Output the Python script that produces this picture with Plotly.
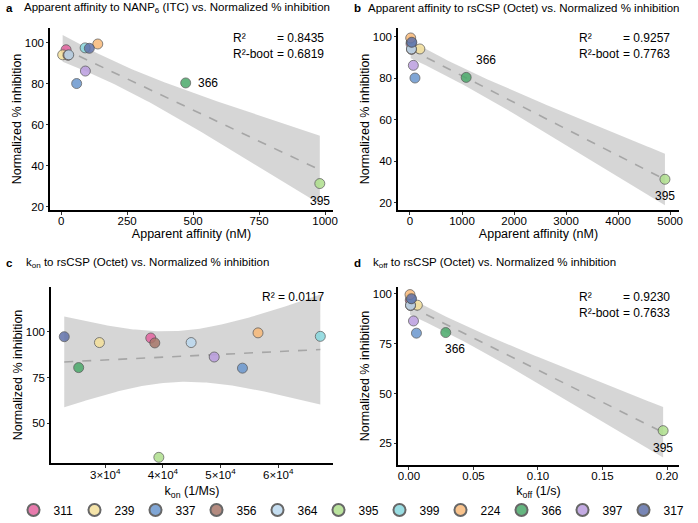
import numpy as np
import plotly.graph_objects as go

# ---------------- data ----------------
antibodies = ["311", "239", "337", "356", "364", "395", "399", "224", "366", "397", "317"]
colors = ["#E4649F", "#F4E09B", "#6B97CE", "#A8776A", "#BCD9EF", "#AEDF8C",
          "#88D8DE", "#F8B979", "#4BAA6B", "#BA9DDF", "#6172AA"]
inhibition = [96.7, 94.2, 80.2, 94.0, 94.2, 31.4, 97.6, 99.5, 80.5, 86.3, 97.4]
affinity_itc = [19, 6, 59, 26, 29, 980, 91, 139, 472, 92, 107]          # nM
affinity_octet = [20, 190, 96, 30, 28, 4900, 25, 14, 1080, 65, 36]      # nM
kon = [3.79e4, 2.90e4, 5.38e4, 3.86e4, 4.49e4, 3.93e4, 6.73e4, 5.65e4, 2.54e4, 4.89e4, 2.29e4]  # 1/Ms
koff = [0.0010, 0.0065, 0.0058, 0.0012, 0.0012, 0.197, 0.0015, 0.0008, 0.0285, 0.0035, 0.0020]  # 1/s

r2_text = {
    "a": ("0.8435", "0.6819"),
    "b": ("0.9257", "0.7763"),
    "c": ("0.0117", None),
    "d": ("0.9230", "0.7633"),
}
labelled = ["366", "395"]

FONT = "Liberation Sans, Arial, Helvetica, sans-serif"
W, H = 698, 523

fig = go.Figure()

panels = [
    ("a", affinity_itc, "", (50, 333), (28, 210), [-42, 1030], [18.5, 107.3], [20, 40, 60, 80, 100]),
    ("b", affinity_octet, "2", (398, 679), (28, 210), [-230, 5170], [16.6, 104.3], [20, 40, 60, 80, 100]),
    ("c", kon, "3", (51, 333), (287, 463), [2.06e4, 6.95e4], [28.3, 124.6], [50, 75, 100]),
    ("d", koff, "4", (398, 679), (287, 465), [-0.0085, 0.2093], [14.2, 103.3], [25, 50, 75, 100]),
]

T_CRIT = 2.262  # t(0.975, df=9)

y = np.array(inhibition, dtype=float)
for key, xv, sfx, (x0, x1), (yt, yb), xr, yr, yt_vals in panels:
    x = np.array(xv, dtype=float)
    xa = "x" + sfx
    ya = "y" + sfx
    n = len(x)
    b1, b0 = np.polyfit(x, y, 1)
    resid = y - (b0 + b1 * x)
    s = np.sqrt(np.sum(resid ** 2) / (n - 2))
    xbar = x.mean()
    sxx = np.sum((x - xbar) ** 2)
    xg = np.linspace(x.min(), x.max(), 120)
    yg = b0 + b1 * xg
    se = s * np.sqrt(1.0 / n + (xg - xbar) ** 2 / sxx)
    lo, hi = yg - T_CRIT * se, yg + T_CRIT * se
    fig.add_trace(go.Scatter(
        x=np.concatenate([xg, xg[::-1]]), y=np.concatenate([hi, lo[::-1]]),
        fill="toself", fillcolor="rgba(153,153,153,0.4)", line=dict(width=0),
        mode="lines", hoverinfo="skip", showlegend=False, xaxis=xa, yaxis=ya))
    fig.add_trace(go.Scatter(
        x=xg, y=yg, mode="lines", line=dict(color="#A6A6A6", width=1.6, dash="dash"),
        hoverinfo="skip", showlegend=False, xaxis=xa, yaxis=ya))
    for i, ab in enumerate(antibodies):
        fig.add_trace(go.Scatter(
            x=[x[i]], y=[y[i]], mode="markers", name=ab,
            marker=dict(size=10, color=colors[i], opacity=0.85,
                        line=dict(color="#4D4D4D", width=0.8)),
            showlegend=(key == "a"), legendgroup=ab, xaxis=xa, yaxis=ya))

    dom_x = [x0 / W, x1 / W]
    dom_y = [1 - yb / H, 1 - yt / H]
    xaxis = dict(domain=dom_x, range=xr, showline=True, linecolor="black", linewidth=1.5,
                 ticks="outside", ticklen=3, tickcolor="#333", showgrid=False, zeroline=False,
                 anchor=ya, tickfont=dict(size=11.5, color="black"), automargin=False,
                 ticklabelstandoff=-4,
                 title=dict(font=dict(size=12.5, color="black"), standoff=2))
    yaxis = dict(domain=dom_y, range=yr, showline=True, linecolor="black", linewidth=1.5,
                 ticks="outside", ticklen=2, tickcolor="#333", showgrid=False, zeroline=False,
                 anchor=xa, tickvals=yt_vals, tickfont=dict(size=11.5, color="black"), automargin=False,
                 title=dict(text="Normalized % inhibition", font=dict(size=12.5, color="black"), standoff=0))
    if key in ("a", "b"):
        xaxis["title"]["text"] = "Apparent affinity (nM)"
    elif key == "c":
        xaxis["title"]["text"] = "k<sub>on</sub> (1/Ms)"
        xaxis["title"]["standoff"] = 7
        xaxis["ticklabelstandoff"] = -3
        tv = [3e4, 4e4, 5e4, 6e4]
        xaxis["tickvals"] = tv
        xaxis["ticktext"] = ["%d×10<sup>4</sup>" % int(v / 1e4) for v in tv]
    else:
        xaxis["title"]["text"] = "k<sub>off</sub> (1/s)"
        xaxis["title"]["standoff"] = 6
        xaxis["tickvals"] = [0, 0.05, 0.10, 0.15, 0.20]
        xaxis["ticktext"] = ["0.00", "0.05", "0.10", "0.15", "0.20"]
    if key == "a":
        xaxis["tickvals"] = [0, 250, 500, 750, 1000]
    if key == "b":
        xaxis["tickvals"] = [0, 1000, 2000, 3000, 4000, 5000]
    fig.layout["xaxis" + sfx] = xaxis
    fig.layout["yaxis" + sfx] = yaxis

    r2, r2b = r2_text[key]
    right = (x1 - 7) / W
    top = 1 - (yt + 1) / H
    if r2b is None:
        fig.add_annotation(xref="paper", yref="paper", x=right, y=top, xanchor="right", yanchor="top",
                           text="R² = " + r2, showarrow=False, font=dict(size=12, color="black", family=FONT))
    else:
        fig.add_annotation(xref="paper", yref="paper", x=right, y=top, xanchor="right", yanchor="top",
                           align="right", text="= " + r2 + "<br>= " + r2b, showarrow=False,
                           font=dict(size=12, color="black", family=FONT))
        fig.add_annotation(xref="paper", yref="paper", x=right - 95 / W, y=top, xanchor="left", yanchor="top",
                           align="left", text="R²<br>R²-boot", showarrow=False,
                           font=dict(size=12, color="black", family=FONT))

    offs = {
        "a": {"366": (10, 0, "left", "middle"), "395": (0, -8, "center", "top")},
        "b": {"366": (8, 8, "left", "bottom"), "395": (0, -8, "center", "top")},
        "d": {"366": (-3, -7, "left", "top"), "395": (0, -8, "center", "top")},
    }
    if key in offs:
        for ab in labelled:
            i = antibodies.index(ab)
            dx, dy, xanc, yanc = offs[key][ab]
            fig.add_annotation(x=x[i], y=y[i], xref=xa, yref=ya, text=ab, showarrow=False,
                               xshift=dx, yshift=dy, xanchor=xanc, yanchor=yanc,
                               font=dict(size=12, color="black", family=FONT))

titles = [
    ("a", 4, 22, 8, "Apparent affinity to NANP<sub>6</sub> (ITC) vs. Normalized % inhibition"),
    ("b", 352, 366, 8, "Apparent affinity to rsCSP (Octet) vs. Normalized % inhibition"),
    ("c", 4, 24, 263, "k<sub>on</sub> to rsCSP (Octet) vs. Normalized % inhibition"),
    ("d", 352, 371, 263, "k<sub>off</sub> to rsCSP (Octet) vs. Normalized % inhibition"),
]
for letter, lx, tx, ty, txt in titles:
    fig.add_annotation(xref="paper", yref="paper", x=lx / W, y=1 - ty / H, xanchor="left", yanchor="middle",
                       text="<b>" + letter + "</b>", showarrow=False, font=dict(size=11.5, color="black", family=FONT))
    fig.add_annotation(xref="paper", yref="paper", x=tx / W, y=1 - ty / H, xanchor="left", yanchor="middle",
                       text=txt, showarrow=False, font=dict(size=11.5, color="black", family=FONT))

fig.update_layout(
    width=W, height=H, margin=dict(l=0, r=0, t=0, b=0, autoexpand=False),
    paper_bgcolor="white", plot_bgcolor="white",
    font=dict(family=FONT, color="black", size=11),
    legend=dict(orientation="h", x=0.5, xanchor="center", y=1 - 510 / H, yanchor="middle",
                font=dict(size=12), itemsizing="constant", tracegroupgap=0,
                itemwidth=30, entrywidth=16, bgcolor="rgba(0,0,0,0)"),
)

fig.write_html("out.html", config={"displayModeBar": False},
               post_script="document.body.style.margin='0';document.body.style.padding='0';")
